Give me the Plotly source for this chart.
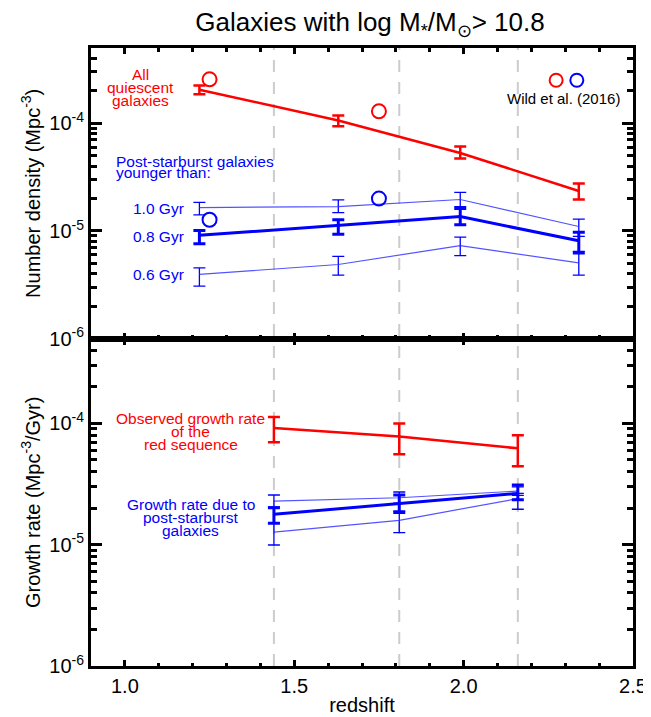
import plotly.graph_objects as go

# ---------------- data ----------------
z_top = [1.22, 1.63, 1.99, 2.34]
z_bot = [1.44, 1.81, 2.16]
z_lines = [1.44, 1.81, 2.16]

quies_val = [2.05e-4, 1.06e-4, 5.3e-5, 2.35e-5]
quies_up = [2.24e-4, 1.18e-4, 6.1e-5, 2.76e-5]
quies_lo = [1.86e-4, 9.4e-5, 4.7e-5, 1.96e-5]

psb10_val = [1.65e-5, 1.68e-5, 1.96e-5, 1.10e-5]
psb10_up = [1.84e-5, 1.94e-5, 2.28e-5, 1.29e-5]
psb10_lo = [1.41e-5, 1.48e-5, 1.68e-5, 8.9e-6]

psb08_val = [9.1e-6, 1.12e-5, 1.36e-5, 8.1e-6]
psb08_up = [1.01e-5, 1.27e-5, 1.62e-5, 9.75e-6]
psb08_lo = [7.6e-6, 9.3e-6, 1.14e-5, 6.24e-6]

psb06_val = [3.95e-6, 4.88e-6, 7.31e-6, 5.05e-6]
psb06_up = [4.54e-6, 5.82e-6, 8.77e-6, 6.47e-6]
psb06_lo = [3.08e-6, 3.89e-6, 5.9e-6, 3.89e-6]

wild_z = [1.25, 1.75]
wild_red = [2.56e-4, 1.29e-4]
wild_blue = [1.27e-5, 2.0e-5]

grow_red_val = [9.16e-5, 7.79e-5, 6.23e-5]
grow_red_up = [1.13e-4, 1.0e-4, 8.0e-5]
grow_red_lo = [7.0e-5, 5.56e-5, 4.43e-5]

grow08_val = [1.78e-5, 2.18e-5, 2.65e-5]
grow08_up = [2.02e-5, 2.57e-5, 3.1e-5]
grow08_lo = [1.50e-5, 1.84e-5, 2.35e-5]

grow10_val = [2.29e-5, 2.44e-5, 2.77e-5]
grow10_up = [2.57e-5, 2.72e-5, 3.0e-5]
grow10_lo = [2.05e-5, 2.2e-5, 2.55e-5]

grow06_val = [1.27e-5, 1.59e-5, 2.40e-5]
grow06_up = [1.5e-5, 1.9e-5, 2.65e-5]
grow06_lo = [9.95e-6, 1.26e-5, 1.96e-5]

ytick_vals = [1e-6, 1e-5, 1e-4]
ytick_text = ["10<sup>-6</sup>", "10<sup>-5</sup>", "10<sup>-4</sup>"]
xtick_vals = [1.0, 1.5, 2.0, 2.5]
xtick_text = ["1.0", "1.5", "2.0", "2.5"]

# ---------------- layout geometry ----------------
W, H = 651, 717
L, R, T, B = 83, 633, 40, 663
SPLIT = 333
FONT = "Liberation Sans, Arial, Helvetica, sans-serif"
RED = "#ff0000"
BLUE = "#0000ff"
THIN = "rgba(40,40,255,0.8)"
NOTE_SIZE = 15.5


def px(xp):
    return (xp - L) / (R - L)


def py(yp):
    return (B - yp) / (B - T)


split_frac = py(SPLIT)
minor_y = [m * 10.0 ** e for e in (-6, -5, -4) for m in range(2, 10) if m * 10.0 ** e < 5.2e-4]


def err(val, up, lo, color, thick):
    return dict(type="data", symmetric=False,
                array=[u - v for u, v in zip(up, val)],
                arrayminus=[v - l for v, l in zip(val, lo)],
                color=color, thickness=thick, width=6)


fig = go.Figure()


def series(x, val, up, lo, xa, ya, lcolor, lw, ecolor, ew):
    fig.add_trace(go.Scatter(x=x, y=val, mode="lines", xaxis=xa, yaxis=ya,
                             line=dict(color=lcolor, width=lw),
                             error_y=err(val, up, lo, ecolor, ew),
                             showlegend=False, hoverinfo="skip"))


# top panel
series(z_top, psb10_val, psb10_up, psb10_lo, "x2", "y2", THIN, 1.2, BLUE, 1.3)
series(z_top, psb06_val, psb06_up, psb06_lo, "x2", "y2", THIN, 1.2, BLUE, 1.3)
series(z_top, psb08_val, psb08_up, psb08_lo, "x2", "y2", BLUE, 3, BLUE, 3)
series(z_top, quies_val, quies_up, quies_lo, "x2", "y2", RED, 2.5, RED, 2.5)

fig.add_trace(go.Scatter(x=wild_z, y=wild_red, mode="markers", xaxis="x2", yaxis="y2",
                         marker=dict(symbol="circle-open", size=14, color=RED, line=dict(width=2)),
                         showlegend=False, hoverinfo="skip"))
fig.add_trace(go.Scatter(x=wild_z, y=wild_blue, mode="markers", xaxis="x2", yaxis="y2",
                         marker=dict(symbol="circle-open", size=14, color=BLUE, line=dict(width=2)),
                         showlegend=False, hoverinfo="skip"))

# bottom panel
series(z_bot, grow10_val, grow10_up, grow10_lo, "x", "y", THIN, 1.2, BLUE, 1.3)
series(z_bot, grow06_val, grow06_up, grow06_lo, "x", "y", THIN, 1.2, BLUE, 1.3)
series(z_bot, grow08_val, grow08_up, grow08_lo, "x", "y", BLUE, 3, BLUE, 3)
series(z_bot, grow_red_val, grow_red_up, grow_red_lo, "x", "y", RED, 2.5, RED, 2.5)

# dashed vertical lines across both panels
shapes = []
for zl in z_lines:
    shapes.append(dict(type="line", xref="x", yref="paper", x0=zl, x1=zl, y0=0, y1=1,
                       line=dict(color="#cccccc", width=2, dash="12px,10px"), layer="below"))

# legend circles (Wild et al.)
for cx, col in ((555, RED), (576, BLUE)):
    shapes.append(dict(type="circle", xref="paper", yref="paper",
                       xsizemode="pixel", ysizemode="pixel",
                       xanchor=px(cx), yanchor=py(72.5),
                       x0=-6.5, x1=6.5, y0=-6.5, y1=6.5,
                       line=dict(color=col, width=2)))

annotations = []


def note(text, xp, yp, color, size=NOTE_SIZE, align="center"):
    annotations.append(dict(text=text, x=px(xp), y=py(yp), xref="paper", yref="paper",
                            showarrow=False, xanchor=align, yanchor="middle",
                            borderpad=0,
                            font=dict(color=color, size=size, family=FONT)))


note("All", 133, 67, RED)
note("quiescent", 133, 80, RED)
note("galaxies", 133, 93, RED)
note("Post-starburst galaxies", 107, 154, BLUE, align="left")
note("younger than:", 107, 166, BLUE, align="left")
note("1.0 Gyr", 178, 202, BLUE, align="right")
note("0.8 Gyr", 178, 230, BLUE, align="right")
note("0.6 Gyr", 178, 268, BLUE, align="right")
note("Wild et al. (2016)", 562, 91, "black", size=15)
note("Observed growth rate", 184, 414, RED)
note("of the", 184, 427, RED)
note("red sequence", 184, 440, RED)
note("Growth rate due to", 184, 500, BLUE)
note("post-starburst", 184, 513, BLUE)
note("galaxies", 184, 526, BLUE)

axis_common = dict(showline=True, linewidth=3, linecolor="black", mirror="ticks",
                   ticks="inside", tickwidth=2.5, tickcolor="black",
                   showgrid=False, zeroline=False)

yaxis_common = dict(axis_common, type="log", range=[-6, 3.699 - 7], ticklen=11,
                    tickvals=ytick_vals, ticktext=ytick_text,
                    minor=dict(tickvals=minor_y, ticks="inside", ticklen=6,
                               tickwidth=2.5, tickcolor="black", showgrid=False),
                    tickfont=dict(size=20, family=FONT, color="black"))

xminor = dict(dtick=0.1, tick0=0.9, ticks="inside", ticklen=3.5,
              tickwidth=2.5, tickcolor="black", showgrid=False)

fig.update_layout(
    width=W, height=H,
    margin=dict(l=L, r=W - R, t=T, b=H - B),
    plot_bgcolor="white", paper_bgcolor="white",
    font=dict(family=FONT, color="black", size=20),
    title=dict(text="Galaxies with log M<sub>*</sub>/M<sub>⊙</sub>> 10.8",
               x=362 / W, xanchor="center", xref="container",
               y=1 - 14 / H, yanchor="middle", yref="container",
               font=dict(size=26, family=FONT)),
    xaxis=dict(axis_common, domain=[0, 1], anchor="y", range=[0.9, 2.5], ticklen=6,
               tickvals=xtick_vals, ticktext=xtick_text, minor=xminor,
               tickfont=dict(size=20, family=FONT),
               title=dict(text="redshift", font=dict(size=20, family=FONT), standoff=2)),
    xaxis2=dict(axis_common, domain=[0, 1], anchor="y2", matches="x", range=[0.9, 2.5],
                ticklen=6, tickvals=xtick_vals, showticklabels=False, minor=xminor),
    yaxis=dict(yaxis_common, domain=[0, split_frac], anchor="x",
               title=dict(text="Growth rate (Mpc<sup>-3</sup>/Gyr)",
                          font=dict(size=20, family=FONT), standoff=4)),
    yaxis2=dict(yaxis_common, domain=[split_frac, 1], anchor="x2",
                title=dict(text="Number density (Mpc<sup>-3</sup>)",
                           font=dict(size=20, family=FONT), standoff=4)),
    shapes=shapes,
    annotations=annotations,
)

fig.write_html("out.html")
